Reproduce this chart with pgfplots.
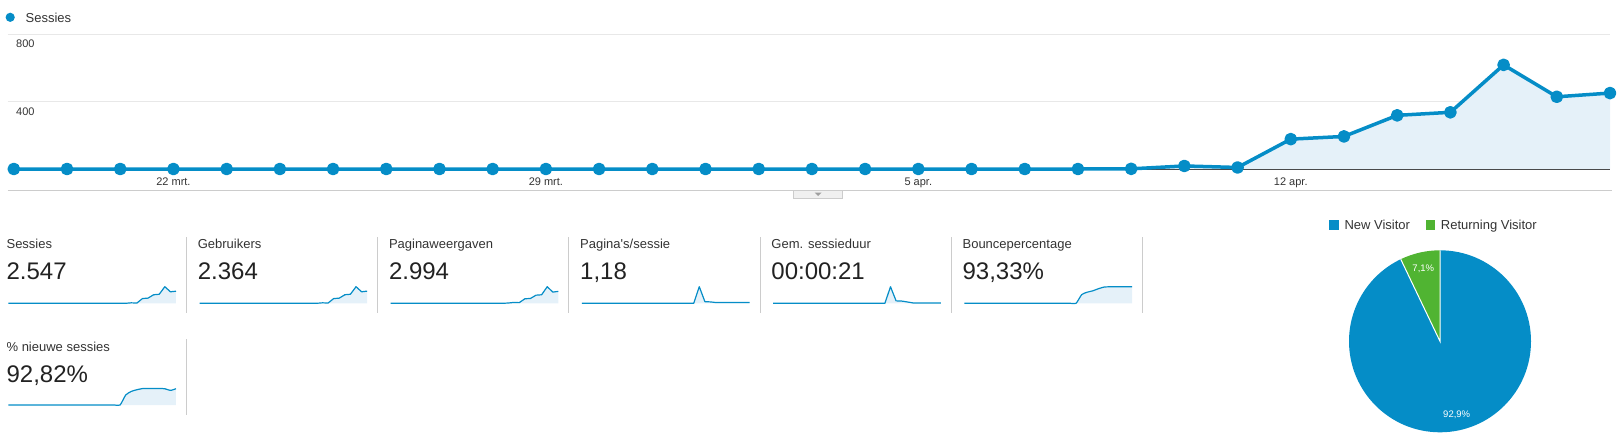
\documentclass[border=0pt]{standalone}
\usepackage{pgfplots}
\pgfplotsset{compat=1.18}
\usepackage{pgfplotstable}
\usepackage{fontspec}
\setmainfont{Liberation Sans}[Ligatures=TeXOff]

\definecolor{gablue}{RGB}{5,141,199}
\definecolor{gafill}{RGB}{229,241,249}
\definecolor{gagreen}{RGB}{80,180,50}
\definecolor{gridc}{RGB}{232,232,232}
\definecolor{sepc}{RGB}{204,204,204}
\definecolor{txt}{RGB}{51,51,51}
\definecolor{num}{RGB}{34,34,34}

\newcommand\lbl{\fontsize{13}{15}\selectfont}
\newcommand\bignum{\fontsize{24}{28}\selectfont}
\newcommand\tck{\fontsize{11}{13}\selectfont}

% one row per day, 19 mrt. (0) to 18 apr. (30)
\pgfplotstableread{
d   ses  usr  pv   pps   dur  bounce  new
0   0    0    0    0     0    0       0
1   0    0    0    0     0    0       0
2   0    0    0    0     0    0       0
3   0    0    0    0     0    0       0
4   0    0    0    0     0    0       0
5   0    0    0    0     0    0       0
6   0    0    0    0     0    0       0
7   0    0    0    0     0    0       0
8   0    0    0    0     0    0       0
9   0    0    0    0     0    0       0
10  0    0    0    0     0    0       0
11  0    0    0    0     0    0       0
12  0    0    0    0     0    0       0
13  0    0    0    0     0    0       0
14  0    0    0    0     0    0       0
15  0    0    0    0     0    0       0
16  0    0    0    0     0    0       0
17  0    0    0    0     0    0       0
18  0    0    0    0     0    0       0
19  0    0    0    0     0    0       0
20  0    0    0    0     0    0       0
21  1    1    12   25    170  50      60
22  18   17   38   2.5   25   64      82
23  9    9    30   2.1   23   72      92
24  177  163  200  1.13  14   84      99
25  193  178  215  1.11  4    93.5    100
26  318  295  360  1.13  4    95      99.7
27  336  312  378  1.12  3.5  95.5    99.6
28  617  572  735  1.19  4    95.3    98
29  428  397  497  1.16  3.5  95.5    88
30  450  420  529  1.18  4    95.4    98
}\daily

\def\pnew{92.9}
\def\pret{7.1}

\pgfplotsset{
  spark/.style={scale only axis, width=167.7pt, height=16.6pt,
    xmin=0, xmax=30, ymin=0, hide axis, clip=false, anchor=south west},
  sparkfill/.style={fill=gafill, draw=none},
  sparkline/.style={gablue, line width=1.2pt, line join=round},
}

\begin{document}
\begin{tikzpicture}
\useasboundingbox (0pt,0pt) rectangle (1623pt,-445pt);

% legend of the main chart
\fill[gablue] (10.2pt,-17.3pt) circle (4.6pt);
\node[anchor=base west, inner sep=0pt, text=txt] at (25.5pt,-22pt) {\lbl Sessies};

\begin{axis}[
  at={(7.6pt,-169pt)}, anchor=south west,
  scale only axis, width=1602.4pt, height=135pt,
  xmin=-0.117, xmax=30, ymin=0, ymax=800,
  axis line style={draw=none},
  major tick length=0pt,
  xtick={3,10,17,24},
  xticklabels={22 mrt., 29 mrt., 5 apr., 12 apr.},
  ytick={400,800},
  ymajorgrids, grid style={gridc, line width=1pt},
  extra y ticks={0}, extra y tick labels={},
  extra y tick style={ymajorgrids=true, major grid style={draw=txt, line width=1pt}},
  xticklabel style={font=\tck, text=txt, anchor=base, inner sep=0pt, yshift=-16.3pt},
  yticklabel style={font=\tck, text=txt, anchor=base west, inner sep=0pt, xshift=8.4pt, yshift=-13.7pt},
  /pgf/number format/assume math mode=true,
  clip=false,
]
\addplot[fill=gafill, draw=none] table[x=d, y=ses] {\daily} \closedcycle;
\addplot[gablue, line width=3.5pt, line join=round,
  mark=*, mark size=4.6pt, mark options={fill=gablue, draw=none}]
  table[x=d, y=ses] {\daily};
\end{axis}

% strip under the chart
\draw[sepc, line width=1pt] (7.6pt,-190pt) -- (1612pt,-190pt);
\filldraw[fill=gray!12, draw=sepc] (793pt,-190pt) rectangle (842pt,-198.5pt);
\fill[gray!75] (814.5pt,-192.5pt) -- (821.5pt,-192.5pt) -- (818pt,-196pt) -- cycle;

% card separators
\foreach \sx in {186.4,377.6,568.8,760,951.2,1142.4}
  \draw[sepc, line width=1pt] (\sx pt,-237pt) -- (\sx pt,-313pt);
\draw[sepc, line width=1pt] (186.4pt,-339pt) -- (186.4pt,-415pt);

% card texts
\node[anchor=base west, inner sep=0pt, text=txt] at (6.4pt,-248.7pt) {\lbl Sessies};
\node[anchor=base west, inner sep=0pt, text=num] at (6.4pt,-279.4pt) {\bignum 2.547};
\node[anchor=base west, inner sep=0pt, text=txt] at (197.6pt,-248.7pt) {\lbl Gebruikers};
\node[anchor=base west, inner sep=0pt, text=num] at (197.6pt,-279.4pt) {\bignum 2.364};
\node[anchor=base west, inner sep=0pt, text=txt] at (388.8pt,-248.7pt) {\lbl Paginaweergaven};
\node[anchor=base west, inner sep=0pt, text=num] at (388.8pt,-279.4pt) {\bignum 2.994};
\node[anchor=base west, inner sep=0pt, text=txt] at (580pt,-248.7pt) {\lbl Pagina's/sessie};
\node[anchor=base west, inner sep=0pt, text=num] at (580pt,-279.4pt) {\bignum 1,18};
\node[anchor=base west, inner sep=0pt, text=txt] at (771.2pt,-248.7pt) {\lbl Gem. sessieduur};
\node[anchor=base west, inner sep=0pt, text=num] at (771.2pt,-279.4pt) {\bignum 00:00:21};
\node[anchor=base west, inner sep=0pt, text=txt] at (962.4pt,-248.7pt) {\lbl Bouncepercentage};
\node[anchor=base west, inner sep=0pt, text=num] at (962.4pt,-279.4pt) {\bignum 93,33\%};
\node[anchor=base west, inner sep=0pt, text=txt] at (6.4pt,-351.3pt) {\lbl \% nieuwe sessies};
\node[anchor=base west, inner sep=0pt, text=num] at (6.4pt,-382.1pt) {\bignum 92,82\%};

% sparklines
\begin{axis}[spark, at={(8.3pt,-303.3pt)}, ymax=617]
\addplot[sparkfill] table[x=d, y=ses] {\daily} \closedcycle;
\addplot[sparkline] table[x=d, y=ses] {\daily};
\end{axis}
\begin{axis}[spark, at={(199.5pt,-303.3pt)}, ymax=572]
\addplot[sparkfill] table[x=d, y=usr] {\daily} \closedcycle;
\addplot[sparkline] table[x=d, y=usr] {\daily};
\end{axis}
\begin{axis}[spark, at={(390.7pt,-303.3pt)}, ymax=735]
\addplot[sparkfill] table[x=d, y=pv] {\daily} \closedcycle;
\addplot[sparkline] table[x=d, y=pv] {\daily};
\end{axis}
\begin{axis}[spark, at={(581.9pt,-303.3pt)}, ymax=25]
\addplot[sparkfill] table[x=d, y=pps] {\daily} \closedcycle;
\addplot[sparkline] table[x=d, y=pps] {\daily};
\end{axis}
\begin{axis}[spark, at={(773.1pt,-303.3pt)}, ymax=170]
\addplot[sparkfill] table[x=d, y=dur] {\daily} \closedcycle;
\addplot[sparkline] table[x=d, y=dur] {\daily};
\end{axis}
\begin{axis}[spark, at={(964.3pt,-303.3pt)}, ymax=95.5]
\addplot[sparkfill, smooth, tension=0.35] table[x=d, y=bounce] {\daily} \closedcycle;
\addplot[sparkline, smooth, tension=0.35] table[x=d, y=bounce] {\daily};
\end{axis}
\begin{axis}[spark, at={(8.3pt,-405pt)}, ymax=100]
\addplot[sparkfill, smooth, tension=0.35] table[x=d, y=new] {\daily} \closedcycle;
\addplot[sparkline, smooth, tension=0.35] table[x=d, y=new] {\daily};
\end{axis}

% visitor type pie
\fill[gablue] (1329.3pt,-220pt) rectangle (1339pt,-229.5pt);
\node[anchor=base west, inner sep=0pt, text=txt] at (1344.3pt,-229.3pt) {\lbl New Visitor};
\fill[gagreen] (1425.7pt,-220pt) rectangle (1435.4pt,-229.5pt);
\node[anchor=base west, inner sep=0pt, text=txt] at (1440.7pt,-229.3pt) {\lbl Returning Visitor};

\begin{axis}[at={(1440pt,-341.3pt)}, anchor=center, hide axis,
  scale only axis, width=182pt, height=182pt,
  xmin=-1, xmax=1, ymin=-1, ymax=1, clip=false]
\fill[gablue] (axis cs:0,0) -- (axis cs:0,1)
  arc[start angle=90, delta angle=-\pnew*3.6, radius=91pt] -- cycle;
\fill[gagreen] (axis cs:0,0) -- (axis cs:0,1)
  arc[start angle=90, delta angle=\pret*3.6, radius=91pt] -- cycle;
\draw[white, line width=1pt] (axis cs:0,1) -- (axis cs:0,0)
  -- ++({90+\pret*3.6}:91pt);
\end{axis}
\node[text=white, inner sep=0pt, anchor=base] at (1423.3pt,-271.6pt) {\fontsize{9.5}{11}\selectfont 7,1\%};
\node[text=white, inner sep=0pt, anchor=base] at (1456.7pt,-417.6pt) {\fontsize{9.5}{11}\selectfont 92,9\%};
\end{tikzpicture}
\end{document}
